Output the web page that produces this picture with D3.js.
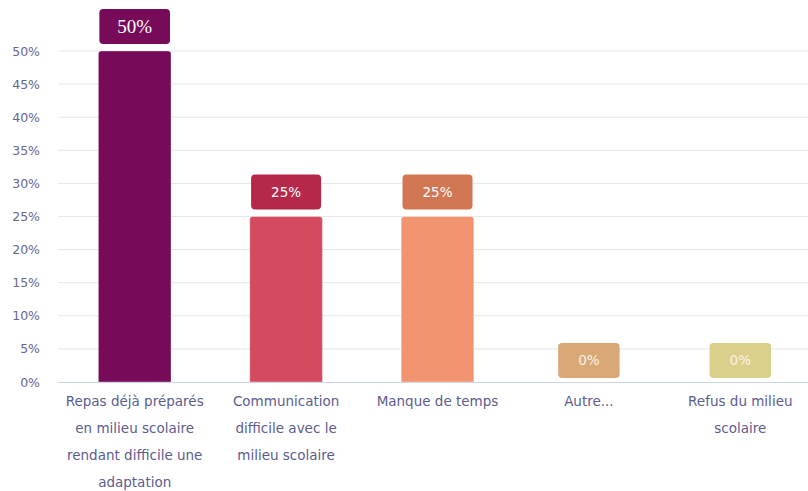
<!DOCTYPE html>
<html><head><meta charset="utf-8">
<script src="https://cdn.jsdelivr.net/npm/d3@7/dist/d3.min.js"></script>
<style>body{margin:0;background:#fff}svg{display:block}</style>
</head><body>
<svg id="c" width="808" height="491"></svg>
<script>
const categories = ["Repas déjà préparés en milieu scolaire rendant difficile une adaptation","Communication difficile avec le milieu scolaire","Manque de temps","Autre...","Refus du milieu scolaire"];
const values = [50, 25, 25, 0, 0];
const barColors = ["#770b5a","#d44a5e","#f29470","#e0b07c","#dfd28f"];
const labelColors = ["#770b5a","#b5284a","#d27754","#d9a877","#dbd08b"];
const yTicks = [0,5,10,15,20,25,30,35,40,45,50];

const svg = d3.select("#c");
const font = "'DejaVu Sans', sans-serif";
const x = d3.scaleBand().domain(categories).range([59, 816]).paddingInner(0.52).paddingOuter(0.26);
const y = d3.scaleLinear().domain([0,50]).range([382, 51]);

// grid
svg.append("g").selectAll("line").data(yTicks.filter(d=>d>0)).join("line")
  .attr("x1",58).attr("x2",808).attr("y1",d=>y(d)).attr("y2",d=>y(d))
  .attr("stroke","#e6e6e6").attr("stroke-width",1);
// y axis labels
const yAxis = svg.append("g").attr("transform","translate(40,0)")
  .call(d3.axisLeft(y).tickValues(yTicks).tickFormat(d=>d+"%").tickSize(0).tickPadding(0));
yAxis.select(".domain").remove();
yAxis.selectAll("text").attr("font-family",font).attr("font-size",12.5).attr("fill","#666690");

// bars
const bw = x.bandwidth();
svg.append("g").selectAll("path").data(values).join("path")
  .attr("d",(d,i)=>{
    if(d<=0) return null;
    const x0=x(categories[i]), x1=x0+bw, y0=y(d), yb=y(0), r=3;
    return `M${x0},${yb}V${y0+r}Q${x0},${y0} ${x0+r},${y0}H${x1-r}Q${x1},${y0} ${x1},${y0+r}V${yb}Z`;
  })
  .attr("fill",(d,i)=>barColors[i]).attr("stroke","rgba(255,255,255,0.35)").attr("stroke-width",1);

// axis line
svg.append("line").attr("x1",58).attr("x2",808).attr("y1",y(0)+0.5).attr("y2",y(0)+0.5)
  .attr("stroke","#ccd6eb").attr("stroke-width",1);

// value label boxes
const lg = svg.append("g");
values.forEach((d,i)=>{
  const cx = x(categories[i]) + bw/2;
  const isSerif = i===0;
  const t = lg.append("text").attr("x",cx).attr("text-anchor","middle")
    .attr("font-family", isSerif ? "'Liberation Serif', serif" : font)
    .attr("font-size", isSerif ? 19 : 13.5)
    .attr("fill", d>0 ? "#ffffff" : "#fbf3e8")
    .text(d+"%");
  const tw = t.node().getComputedTextLength();
  const w = Math.min(bw-2, tw+40);
  const h = 35;
  const bottom = y(d) - 7 + (d>0?0:3);
  lg.insert("rect","text").attr("x",cx-w/2).attr("y",bottom-h).attr("width",w).attr("height",h)
    .attr("rx",4).attr("fill",labelColors[i]);
  t.attr("y",bottom-h/2).attr("dy","0.35em");
});

// category labels
const cg = svg.append("g");
const fs = 13.5;
categories.forEach((c,i)=>{
  const cx = x(c)+bw/2;
  const words = c.split(" ");
  const lines = []; let cur = "";
  const tmp = cg.append("text").attr("font-family",font).attr("font-size",fs);
  words.forEach(wd=>{
    const test = cur ? cur+" "+wd : wd;
    tmp.text(test);
    if(tmp.node().getComputedTextLength() > 142 && cur){ lines.push(cur); cur = wd; }
    else cur = test;
  });
  lines.push(cur);
  tmp.remove();
  lines.forEach((ln,j)=>{
    cg.append("text").attr("x",cx).attr("y",401+27*j).attr("dy","0.35em")
      .attr("text-anchor","middle").attr("font-family",font).attr("font-size",fs)
      .attr("fill","#5c5c8e").text(ln);
  });
});
</script>
</body></html>
